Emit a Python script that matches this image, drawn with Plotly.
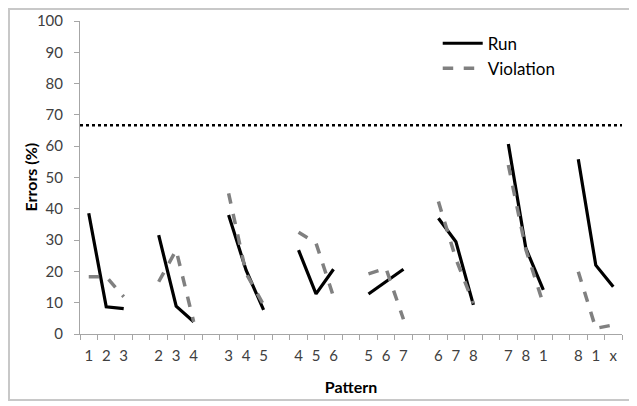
import plotly.graph_objects as go

# pattern triplets shown on the x axis, one group per starting position
PATTERN_GROUPS = [
    ["1", "2", "3"], ["2", "3", "4"], ["3", "4", "5"], ["4", "5", "6"],
    ["5", "6", "7"], ["6", "7", "8"], ["7", "8", "1"], ["8", "1", "x"],
]
RUN = [
    [38.6, 8.7, 8.1], [31.6, 8.9, 3.9], [38.0, 20.4, 7.7], [26.8, 12.8, 20.7],
    [12.8, 16.7, 20.7], [37.0, 29.5, 9.3], [60.7, 27.4, 14.1], [55.8, 22.0, 15.1],
]
VIOLATION = [
    [18.3, 18.3, 11.9], [16.7, 26.8, 3.9], [44.9, 19.4, 9.3], [32.5, 29.0, 11.9],
    [19.2, 21.0, 4.7], [42.3, 24.0, 9.8], [54.0, 27.0, 9.6], [19.9, 1.8, 2.9],
]
CHANCE = 66.7

# page has an 8px body margin, so the figure is shrunk by that much
OFF = 8
W, H = 637 - OFF, 406 - OFF
L, R, T, B = 80 - OFF, 15, 21 - OFF, 72
FONT = "Lato, 'Open Sans', sans-serif"
TICK_COL = "#404040"
AXIS_COL = "#a6a6a6"

# one category slot between groups, like the original spreadsheet
x, run_y, vio_y, tickvals, ticktext = [], [], [], [], []
for g, labels in enumerate(PATTERN_GROUPS):
    for i, lab in enumerate(labels):
        pos = g * 4 + i
        x.append(pos)
        run_y.append(RUN[g][i])
        vio_y.append(VIOLATION[g][i])
        tickvals.append(pos)
        ticktext.append(lab)
    if g < len(PATTERN_GROUPS) - 1:
        x.append(g * 4 + 3)
        run_y.append(None)
        vio_y.append(None)
n_slots = len(PATTERN_GROUPS) * 4 - 1

fig = go.Figure()
fig.add_trace(go.Scatter(
    x=x, y=run_y, mode="lines", name="Run",
    line=dict(color="black", width=3.2), connectgaps=False
))
fig.add_trace(go.Scatter(
    x=x, y=vio_y, mode="lines", name="Violation",
    line=dict(color="#808080", width=3.5, dash="dash"), connectgaps=False
))

fig.add_shape(type="line", xref="paper", x0=0, x1=1, yref="y", y0=CHANCE, y1=CHANCE,
              line=dict(color="black", width=2.5, dash="dot"))

# chart area frame (page pixel coords -> paper)
pw, ph = W - L - R, H - T - B
def px_x(p):
    return (p - OFF - L) / pw
def px_y(p):
    return (H - B - (p - OFF)) / ph
fig.add_shape(type="rect", xref="paper", yref="paper",
              x0=px_x(OFF + 1), x1=px_x(631), y0=px_y(400), y1=px_y(OFF + 1),
              line=dict(color="#c8c8c8", width=2), layer="above")

# y axis title placed by hand
fig.add_annotation(text="<b>Errors (%)</b>", textangle=-90, showarrow=False,
                   xref="paper", yref="paper", x=px_x(30), y=0.5,
                   xanchor="center", yanchor="middle",
                   font=dict(size=16, color="black"))

fig.update_layout(
    width=W, height=H,
    margin=dict(l=L, r=R, t=T, b=B, autoexpand=False),
    paper_bgcolor="white", plot_bgcolor="white",
    font=dict(family=FONT, size=14, color=TICK_COL),
    showlegend=True,
    legend=dict(x=0.66, y=0.985, xanchor="left", yanchor="top",
                bgcolor="rgba(0,0,0,0)", font=dict(size=17, color="black"),
                itemwidth=40, tracegroupgap=0),
    xaxis=dict(
        range=[-0.5, n_slots - 0.5], tickmode="array",
        tickvals=tickvals, ticktext=ticktext,
        ticks="outside", ticklen=8, tickcolor="rgba(0,0,0,0)",
        minor=dict(tickmode="linear", tick0=-0.5, dtick=1, ticks="outside",
                   ticklen=5, tickcolor=AXIS_COL, showgrid=False),
        showline=True, linecolor=AXIS_COL, linewidth=1,
        showgrid=False, zeroline=False, automargin=False,
        tickfont=dict(size=15, color=TICK_COL),
        title=dict(text="<b>Pattern</b>", font=dict(size=16, color="black"), standoff=18),
    ),
    yaxis=dict(
        range=[0, 100], dtick=10,
        ticks="outside", ticklen=5, tickcolor=AXIS_COL,
        ticklabelstandoff=8,
        showline=True, linecolor=AXIS_COL, linewidth=1,
        showgrid=False, zeroline=False, automargin=False,
        tickfont=dict(size=15, color=TICK_COL),
    ),
)

fig.write_html("out.html")
